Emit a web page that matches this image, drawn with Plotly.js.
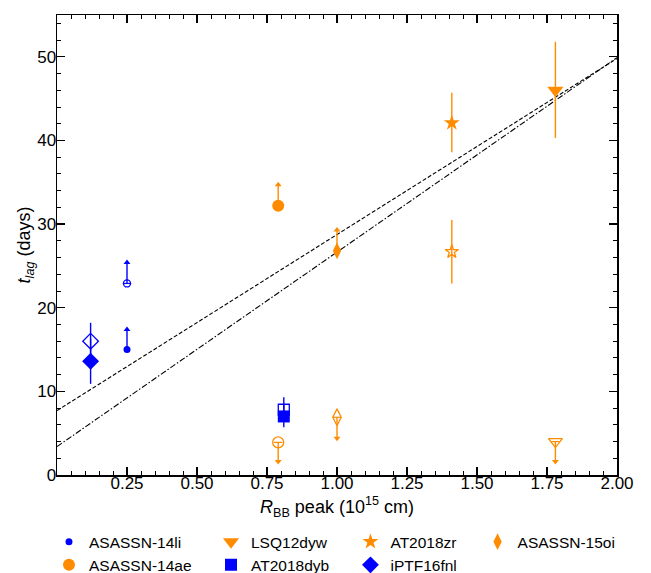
<!DOCTYPE html>
<html>
<head>
<meta charset="utf-8">
<script src="https://cdn.plot.ly/plotly-3.0.1.min.js"></script>
<style>html,body{margin:0;padding:0;background:#fff;}#chart{width:651px;height:573px;}</style>
</head>
<body>
<div id="chart"></div>
<script>
// ---------------- data ----------------
const BLUE = '#0000FF';
const ORANGE = '#FF8C00';

// fit lines
const fitX = [0, 2];
const fitDashY = [7.7, 49.8];
const fitDashDotY = [3.4, 49.9];

// ASASSN-14li (lower limits)
const li14X = [0.25];
const li14FilledY = [15.0];
const li14FilledLim = [17.4];
const li14OpenY = [22.9];
const li14OpenLim = [25.4];

// ASASSN-14ae (filled lower limit, open upper limit)
const ae14X = [0.79];
const ae14FilledY = [32.2];
const ae14FilledLim = [34.7];
const ae14OpenY = [3.9];
const ae14OpenLim = [1.6];

// LSQ12dyw (filled with error bar, open upper limit)
const lsqX = [1.78];
const lsqFilledY = [46.0];
const lsqFilledLo = [40.3];
const lsqFilledHi = [51.8];
const lsqOpenY = [4.0];
const lsqOpenLim = [1.6];

// AT2018dyb (error bars)
const dybX = [0.81];
const dybFilledY = [7.0];
const dybFilledLo = [5.7];
const dybFilledHi = [8.5];
const dybOpenY = [7.8];
const dybOpenLo = [6.6];
const dybOpenHi = [9.3];

// AT2018zr (error bars)
const zrX = [1.41];
const zrFilledY = [42.1];
const zrFilledLo = [38.6];
const zrFilledHi = [45.7];
const zrOpenY = [26.7];
const zrOpenLo = [22.9];
const zrOpenHi = [30.5];

// ASASSN-15oi (filled lower limit, open upper limit)
const oi15X = [1.0];
const oi15FilledY = [26.8];
const oi15FilledLim = [29.3];
const oi15OpenY = [6.9];
const oi15OpenLim = [4.4];

// iPTF16fnl (error bars)
const fnlX = [0.12];
const fnlFilledY = [13.6];
const fnlFilledLo = [10.9];
const fnlFilledHi = [16.3];
const fnlOpenY = [16.0];
const fnlOpenLo = [13.8];
const fnlOpenHi = [18.2];

// axis ticks
const xTickVals = [0.25, 0.5, 0.75, 1.0, 1.25, 1.5, 1.75, 2.0];
const xTickText = ['0.25', '0.50', '0.75', '1.00', '1.25', '1.50', '1.75', '2.00'];
const yTickVals = [0, 10, 20, 30, 40, 50];

// ---------------- helpers ----------------
const FONT = 'Liberation Sans, Arial, sans-serif';
const traces = [];

function errTrace(name, x, y, lo, hi, symbol, size, color, legendId, showlegend) {
  const plus = y.map((v, i) => hi[i] - v);
  const minus = y.map((v, i) => v - lo[i]);
  return {
    type: 'scatter', mode: 'markers', name: name, x: x, y: y,
    legend: legendId, showlegend: showlegend,
    marker: {symbol: symbol, size: size, color: color,
             line: {color: color, width: symbol.indexOf('open') >= 0 ? 1.3 : 0}},
    error_y: {type: 'data', symmetric: false, array: plus, arrayminus: minus,
              color: color, thickness: 1.4, width: 0},
    hoverinfo: 'skip'
  };
}
function arrowTrace(x, lim, up, color) {
  return {
    type: 'scatter', mode: 'markers', x: x, y: lim, showlegend: false,
    marker: {symbol: up ? 'triangle-up' : 'triangle-down', size: 6, color: color, line: {width: 0}},
    hoverinfo: 'skip'
  };
}
function capTrace(x, y, color) {
  return {
    type: 'scatter', mode: 'markers', x: x, y: y, showlegend: false,
    marker: {symbol: 'line-ew-open', size: 6, color: color, line: {color: color, width: 1.2}},
    hoverinfo: 'skip'
  };
}
function lowerLimit(name, x, y, lim, symbol, size, color, legendId, showlegend, withCap) {
  traces.push(errTrace(name, x, y, y, lim, symbol, size, color, legendId, showlegend));
  traces.push(arrowTrace(x, lim, true, color));
  if (withCap) traces.push(capTrace(x, y, color));
}
function upperLimit(name, x, y, lim, symbol, size, color, legendId, showlegend, withCap) {
  traces.push(errTrace(name, x, y, lim, y, symbol, size, color, legendId, showlegend));
  traces.push(arrowTrace(x, lim, false, color));
  if (withCap) traces.push(capTrace(x, y, color));
}

// ---------------- fit lines ----------------
traces.push({type: 'scatter', mode: 'lines', x: fitX, y: fitDashY, showlegend: false,
  line: {color: 'black', width: 1.1, dash: '4px,2px'}, hoverinfo: 'skip'});
traces.push({type: 'scatter', mode: 'lines', x: fitX, y: fitDashDotY, showlegend: false,
  line: {color: 'black', width: 1.1, dash: '6px,2px,1.5px,2px'}, hoverinfo: 'skip'});

// ---------------- points ----------------
// column 1
lowerLimit('ASASSN-14li', li14X, li14FilledY, li14FilledLim, 'circle', 7, BLUE, 'legend', true, false);
lowerLimit('ASASSN-14li', li14X, li14OpenY, li14OpenLim, 'circle-open', 7, BLUE, 'legend', false, true);
lowerLimit('ASASSN-14ae', ae14X, ae14FilledY, ae14FilledLim, 'circle', 12, ORANGE, 'legend', true, false);
upperLimit('ASASSN-14ae', ae14X, ae14OpenY, ae14OpenLim, 'circle-open', 11, ORANGE, 'legend', false, true);
// column 2
traces.push(errTrace('LSQ12dyw', lsqX, lsqFilledY, lsqFilledLo, lsqFilledHi, 'triangle-down', 14, ORANGE, 'legend2', true));
upperLimit('LSQ12dyw', lsqX, lsqOpenY, lsqOpenLim, 'triangle-down-open', 12, ORANGE, 'legend2', false, true);
traces.push(errTrace('AT2018dyb', dybX, dybOpenY, dybOpenLo, dybOpenHi, 'square-open', 11, BLUE, 'legend2', false));
traces.push(errTrace('AT2018dyb', dybX, dybFilledY, dybFilledLo, dybFilledHi, 'square', 12, BLUE, 'legend2', true));
// column 3
traces.push(errTrace('AT2018zr', zrX, zrFilledY, zrFilledLo, zrFilledHi, 'star', 12, ORANGE, 'legend3', true));
traces.push(errTrace('AT2018zr', zrX, zrOpenY, zrOpenLo, zrOpenHi, 'star-open', 10, ORANGE, 'legend3', false));
traces.push(errTrace('iPTF16fnl', fnlX, fnlOpenY, fnlOpenLo, fnlOpenHi, 'diamond-open', 12, BLUE, 'legend3', false));
traces.push(errTrace('iPTF16fnl', fnlX, fnlFilledY, fnlFilledLo, fnlFilledHi, 'diamond', 13, BLUE, 'legend3', true));
// column 4
lowerLimit('ASASSN-15oi', oi15X, oi15FilledY, oi15FilledLim, 'diamond-tall', 12, ORANGE, 'legend4', true, false);
upperLimit('ASASSN-15oi', oi15X, oi15OpenY, oi15OpenLim, 'diamond-tall-open', 12, ORANGE, 'legend4', false, true);

// ---------------- layout ----------------
function legendAt(xp) {
  return {x: xp, xanchor: 'left', y: -0.109, yanchor: 'top', orientation: 'v',
          bgcolor: 'rgba(0,0,0,0)', borderwidth: 0, tracegroupgap: 0,
          font: {family: FONT, size: 15.5, color: 'black'}};
}
const axisCommon = {
  showgrid: false, zeroline: false, showline: true, linecolor: 'black', linewidth: 1.5,
  mirror: 'allticks', ticks: 'inside', ticklen: 8, tickwidth: 1.2, tickcolor: 'black',
  tickfont: {family: FONT, size: 17, color: 'black'}, automargin: false
};
const layout = {
  width: 651, height: 573,
  margin: {l: 57, r: 34, t: 15, b: 98, autoexpand: false},
  paper_bgcolor: 'white', plot_bgcolor: 'white',
  font: {family: FONT, color: 'black'},
  xaxis: Object.assign({}, axisCommon, {
    range: [0, 2], tickmode: 'array', tickvals: xTickVals, ticktext: xTickText,
    ticklabelstandoff: -8,
    minor: {dtick: 0.05, tick0: 0, ticks: 'inside', ticklen: 4, tickwidth: 1, tickcolor: 'black', showgrid: false},
    title: {text: '<i>R</i><sub>BB</sub> peak (10<sup>15</sup> cm)', font: {family: FONT, size: 18, color: 'black'}, standoff: 8}
  }),
  yaxis: Object.assign({}, axisCommon, {
    range: [0, 55], tickmode: 'array', tickvals: yTickVals,
    ticklabelstandoff: -4,
    minor: {dtick: 2, tick0: 0, ticks: 'inside', ticklen: 4, tickwidth: 1, tickcolor: 'black', showgrid: false},
    title: {text: '<i>t</i><sub><i>lag</i></sub> (days)', font: {family: FONT, size: 18, color: 'black'}, standoff: 0}
  }),
  legend: legendAt(-0.0143),
  legend2: legendAt(0.275),
  legend3: legendAt(0.524),
  legend4: legendAt(0.751),
  showlegend: true
};

Plotly.newPlot('chart', traces, layout, {displayModeBar: false, staticPlot: true});
</script>
</body>
</html>
